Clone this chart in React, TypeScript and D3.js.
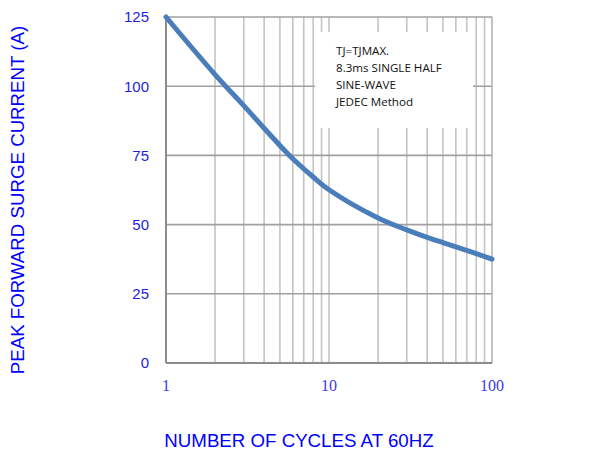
import { useRef, useEffect } from "react"
import * as d3 from "d3"

// values
const cycles = [1, 2, 3, 4, 5, 6, 8, 10, 20, 30, 40, 50, 70, 100]
const current = [125, 104.2, 93, 84.8, 78.6, 73.8, 67.2, 62.6, 52.4, 48.1, 45.4, 43.5, 40.7, 37.5]
const yTicks = [0, 25, 50, 75, 100, 125]
const xTicks = [1, 10, 100]
const noteLines = ["TJ=TJMAX.", "8.3ms SINGLE HALF", "SINE-WAVE", "JEDEC Method"]

export default function App() {
    const svgRef = useRef<SVGSVGElement>(null)
    useEffect(() => {
        const width = 599
        const height = 452
        const svg = d3.select(svgRef.current)
        svg.selectAll("*").remove()
        svg.attr("width", width).attr("height", height)

        const margin = { top: 17, left: 166, bottom: 89, right: 107 }
        const innerW = width - margin.left - margin.right
        const innerH = height - margin.top - margin.bottom

        const x = d3.scaleLog().domain([1, 100]).range([0, innerW])
        const y = d3.scaleLinear().domain([0, 125]).range([innerH, 0])

        const g = svg.append("g").attr("transform", `translate(${margin.left},${margin.top})`)

        // minor vertical grid
        const minor = d3.range(2, 10).concat(d3.range(20, 100, 10))
        g.selectAll("line.vgrid").data(minor.concat([10])).enter().append("line")
            .attr("x1", d => x(d)).attr("x2", d => x(d))
            .attr("y1", 0).attr("y2", innerH)
            .style("stroke", "#c4c4c4").style("stroke-width", 1.6)
        g.append("line").attr("x1", x(100)).attr("x2", x(100)).attr("y1", 0).attr("y2", innerH)
            .style("stroke", "#b4b4b4").style("stroke-width", 1.6)

        // horizontal grid
        g.selectAll("line.hgrid").data(yTicks.slice(1)).enter().append("line")
            .attr("x1", 0).attr("x2", innerW)
            .attr("y1", d => y(d)).attr("y2", d => y(d))
            .style("stroke", "#a0a0a0").style("stroke-width", 1.6)

        // annotation box
        g.append("rect").attr("x", 315 - margin.left).attr("y", 32 - margin.top)
            .attr("width", 158).attr("height", 96).style("fill", "#fff")
        g.append("text").attr("x", 336 - margin.left).attr("y", 55 - margin.top)
            .style("font-family", "'Open Sans', sans-serif").style("font-size", "11.6px").style("fill", "#111")
            .selectAll("tspan").data(noteLines).enter().append("tspan")
            .attr("x", 336 - margin.left).attr("dy", (d, i) => i === 0 ? 0 : 17)
            .text(d => d)

        // axes lines
        g.append("line").attr("x1", 0).attr("x2", 0).attr("y1", 0).attr("y2", innerH)
            .style("stroke", "#8c8c8c").style("stroke-width", 2)
        g.append("line").attr("x1", 0).attr("x2", innerW).attr("y1", innerH).attr("y2", innerH)
            .style("stroke", "#8c8c8c").style("stroke-width", 2)

        // tick labels
        g.selectAll("text.ytick").data(yTicks).enter().append("text")
            .attr("x", -17).attr("y", d => y(d)).attr("dy", "0.36em")
            .attr("text-anchor", "end")
            .style("font-family", "'Liberation Sans', Arial, sans-serif").style("font-size", "15px")
            .style("fill", "#1e1edc")
            .text(d => d)
        g.selectAll("text.xtick").data(xTicks).enter().append("text")
            .attr("x", d => x(d)).attr("y", innerH + 28)
            .attr("text-anchor", "middle")
            .style("font-family", "'Liberation Serif', 'Times New Roman', serif").style("font-size", "16px")
            .style("fill", "#3a3af0")
            .text(d => d)

        // curve
        const line = d3.line<number>()
            .x((d, i) => x(cycles[i]))
            .y(d => y(d))
            .curve(d3.curveCatmullRom.alpha(0.5))
        g.append("path").datum(current).attr("d", line)
            .style("fill", "none").style("stroke", "#4a7ebb").style("stroke-width", 5)
            .style("stroke-linecap", "round")

        // axis titles
        svg.append("text").attr("transform", `translate(24, 200) rotate(-90)`)
            .attr("text-anchor", "middle")
            .style("font-family", "'Liberation Sans', Arial, sans-serif").style("font-size", "18.7px")
            .style("fill", "#0000ff")
            .text("PEAK FORWARD SURGE CURRENT (A)")
        svg.append("text").attr("x", 299).attr("y", 447)
            .attr("text-anchor", "middle")
            .style("font-family", "'Liberation Sans', Arial, sans-serif").style("font-size", "18.7px")
            .style("fill", "#0000ff")
            .text("NUMBER OF CYCLES AT 60HZ")
    }, [])
    return (
        <div>
            <svg ref={svgRef} style={{ position: "absolute", left: 0, top: 0 }}></svg>
        </div>
    )
}
